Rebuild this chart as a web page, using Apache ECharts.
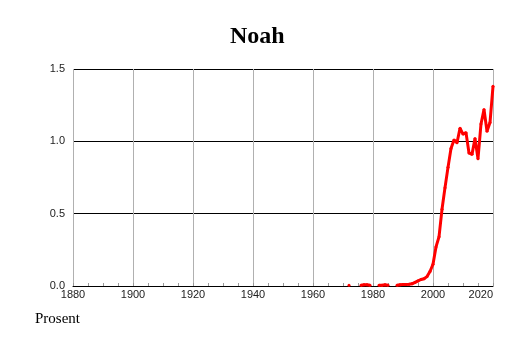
<!DOCTYPE html>
<html>
<head>
<meta charset="utf-8">
<script src="https://cdn.jsdelivr.net/npm/echarts@6/dist/echarts.min.js"></script>
<style>
html,body{margin:0;padding:0;background:#fff;}
#chart{width:514px;height:343px;}
</style>
</head>
<body>
<div id="chart"></div>
<script>
var titleText = 'Noah';
var yAxisName = 'Prosent';
var years = [1972,1973,1974,1975,1976,1977,1978,1979,1980,1981,1982,1983,1984,1985,1986,1987,
  1988,1989,1990,1991,1992,1993,1994,1995,1996,1997,1998,1999,2000,2001,2002,2003,2004,2005,
  2006,2007,2008,2009,2010,2011,2012,2013,2014,2015,2016,2017,2018,2019,2020];
var values = [0.005,null,null,null,0.005,0.008,0.008,0.005,null,null,0.005,0.005,0.008,0.005,null,null,
  0.005,0.008,0.01,0.01,0.012,0.015,0.025,0.035,0.045,0.05,0.065,0.1,0.15,0.27,0.34,0.53,0.68,0.82,
  0.95,1.01,0.99,1.09,1.05,1.06,0.92,0.91,1.02,0.88,1.12,1.22,1.07,1.13,1.38];
var xMin = 1880, xMax = 2020, xStep = 20;
var yMin = 0, yMax = 1.5, yStep = 0.5;

var seriesData = years.map(function(y, i){ return [y, values[i]]; });

var chart = echarts.init(document.getElementById('chart'), null, {renderer:'canvas'});
chart.setOption({
  animation: false,
  backgroundColor: '#ffffff',
  title: [
    {text: titleText, left: 225, top: 20,
     textStyle: {fontFamily: 'Liberation Serif', fontWeight: 'bold', fontSize: 24, color: '#000'}},
    {text: yAxisName, left: 30, top: 307,
     textStyle: {fontFamily: 'Liberation Serif', fontWeight: 'normal', fontSize: 15, color: '#000'}}
  ],
  grid: {left: 73, right: 21, top: 69, bottom: 57, containLabel: false},
  xAxis: {
    type: 'value', min: xMin, max: xMax, interval: xStep,
    axisLine: {show: true, onZero: false, lineStyle: {color: '#000', width: 1}},
    axisTick: {show: true, inside: true, length: 3, lineStyle: {color: '#999'}},
    minorTick: {show: true, splitNumber: 4, length: 3, lineStyle: {color: '#999'}},
    axisLabel: {fontFamily: 'Liberation Sans', fontSize: 11, color: '#222', margin: 3,
      alignMaxLabel: 'right', formatter: function(v){ return String(v); }},
    splitLine: {show: true, lineStyle: {color: '#b0b0b0', width: 1}}
  },
  yAxis: {
    type: 'value', min: yMin, max: yMax, interval: yStep,
    axisLine: {show: false},
    axisTick: {show: false},
    axisLabel: {fontFamily: 'Liberation Sans', fontSize: 11, color: '#222', margin: 8,
      formatter: function(v){ return v.toFixed(1); }},
    splitLine: {show: true, lineStyle: {color: '#000', width: 1}}
  },
  series: [{
    type: 'line',
    data: seriesData,
    connectNulls: false,
    symbol: 'circle', symbolSize: 3, showAllSymbol: true,
    itemStyle: {color: '#ff0000', borderWidth: 0},
    lineStyle: {color: '#ff0000', width: 3},
    z: 5
  }]
});
</script>
</body>
</html>
